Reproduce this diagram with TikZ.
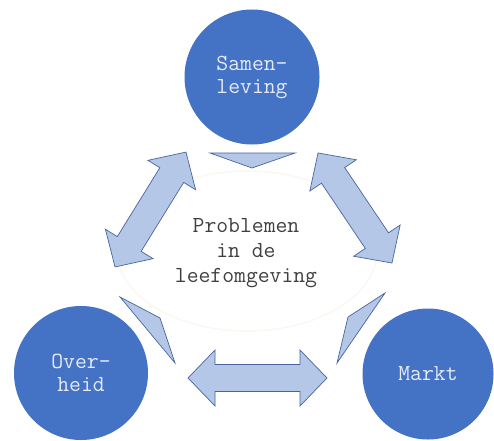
\documentclass[tikz,border=0pt]{standalone}
\definecolor{circblue}{RGB}{68,114,196}
\definecolor{arrfill}{RGB}{180,199,231}
\definecolor{arrline}{RGB}{72,100,160}
\definecolor{circtext}{RGB}{228,234,245}
\definecolor{midtext}{RGB}{64,64,64}
\definecolor{glow}{RGB}{252,247,240}
\tikzset{
  actor/.style={circle, fill=circblue, draw=none, minimum size=#1, inner sep=0pt,
    text=circtext, align=center, font=\ttfamily\fontsize{23}{23}\selectfont},
  arrowshape/.style={fill=arrfill, draw=arrline, line width=0.7pt, line join=miter},
}
\newcommand\dblarrowshape[4]{% center, angle, half length, shaft half width
  \begin{scope}[shift={#1}, rotate=#2]
    \draw[arrowshape] (-#3pt,0) -- ({-#3pt+27pt},28pt) -- ({-#3pt+27pt},#4pt)
      -- ({#3pt-27pt},#4pt) -- ({#3pt-27pt},28pt) -- (#3pt,0)
      -- ({#3pt-27pt},-28pt) -- ({#3pt-27pt},-#4pt) -- ({-#3pt+27pt},-#4pt)
      -- ({-#3pt+27pt},-28pt) -- cycle;
  \end{scope}}
\begin{document}
\begin{tikzpicture}[x=1pt,y=1pt]
\useasboundingbox (0,0) rectangle (494,440);
% faint glow ellipse
\draw[glow, line width=1.5pt] (247,189) ellipse [x radius=130, y radius=80];
% circles
\node[actor=135pt] (sam) at (252,363) {Samen-\\leving};
\node[actor=134pt] (ove) at (81,67) {Over-\\heid};
\node[actor=131pt] (mar) at (428,66) {Markt};
% centre text
\node[font=\ttfamily\fontsize{23}{25}\selectfont, text=midtext, align=center] (prob) at (246,187) {Problemen\\in de\\leefomgeving};
% arrows
\dblarrowshape{(150.5,230.5)}{58.3}{67.5}{14}
\dblarrowshape{(355,232)}{-56.1}{66.3}{14}
\dblarrowshape{(257.5,62)}{0}{69.5}{13.5}
% triangles
\draw[arrowshape] (210,287) -- (295,287) -- (252,272) -- cycle;
\draw[arrowshape] (120,143) -- (160,122) -- (175,77) -- cycle;
\draw[arrowshape] (385,147) -- (348,123) -- (337,77) -- cycle;
\end{tikzpicture}
\end{document}
